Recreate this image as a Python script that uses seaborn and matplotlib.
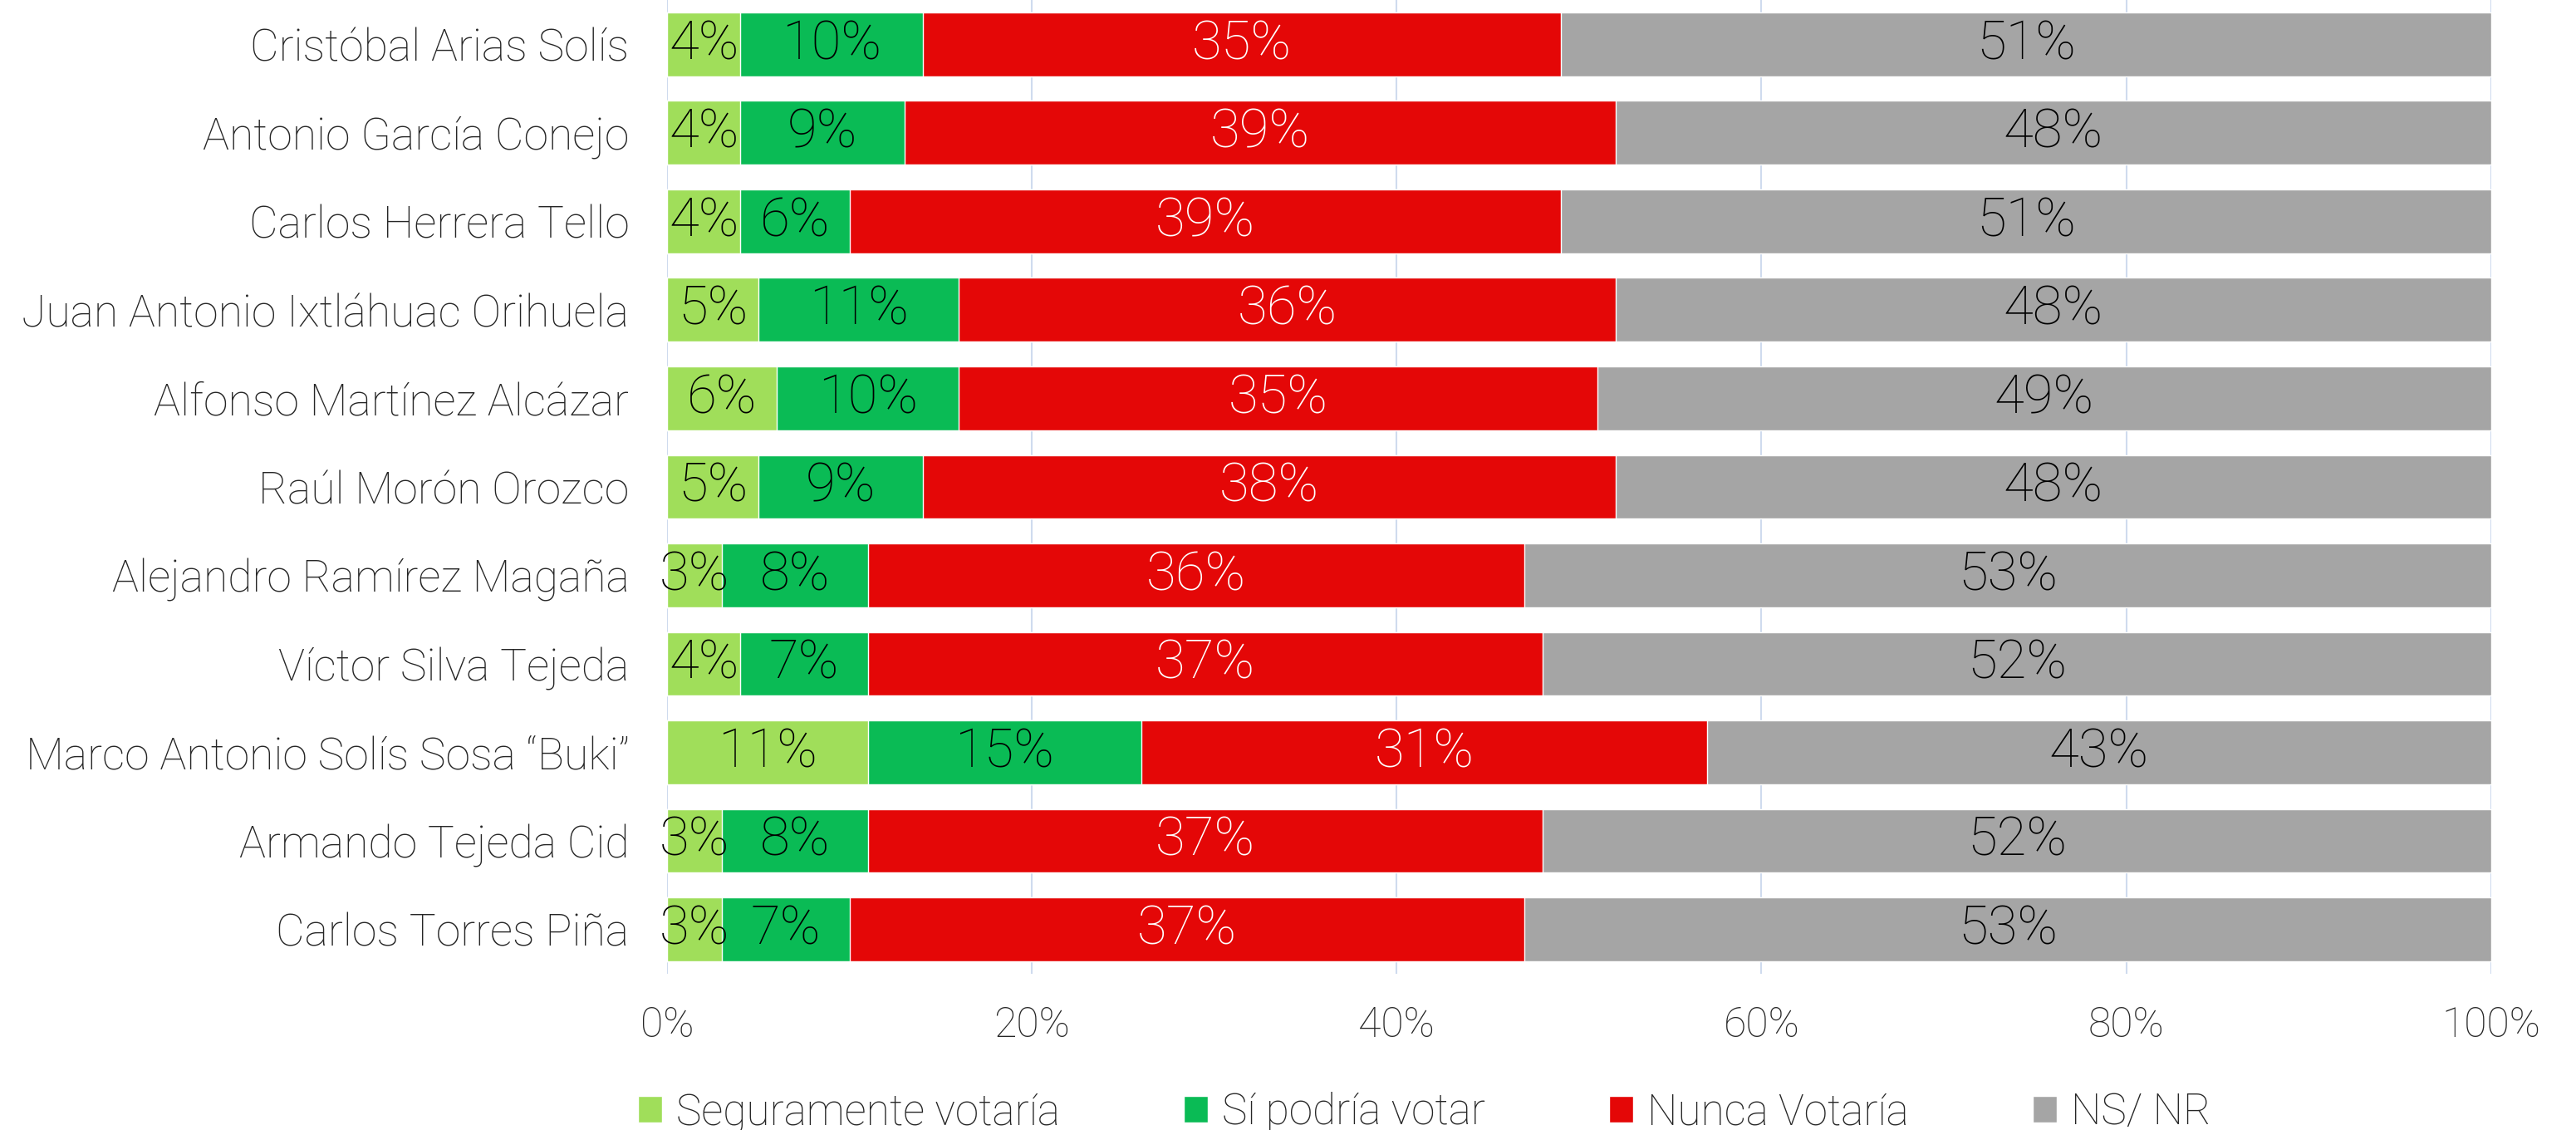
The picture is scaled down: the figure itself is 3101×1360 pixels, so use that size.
import pandas as pd
import numpy as np
import matplotlib.pyplot as plt
import seaborn as sns
from matplotlib.patches import Patch

sns.set_style("white")
plt.rcParams['font.family'] = ['Roboto', 'Liberation Sans', 'DejaVu Sans']
plt.rcParams['font.weight'] = 'light'

# Data (percent)
candidates = [
    "Cristóbal Arias Solís",
    "Antonio García Conejo",
    "Carlos Herrera Tello",
    "Juan Antonio Ixtláhuac Orihuela",
    "Alfonso Martínez Alcázar",
    "Raúl Morón Orozco",
    "Alejandro Ramírez Magaña",
    "Víctor Silva Tejeda",
    "Marco Antonio Solís Sosa “Buki”",
    "Armando Tejeda Cid",
    "Carlos Torres Piña",
]
seguramente = [4, 4, 4, 5, 6, 5, 3, 4, 11, 3, 3]
si_podria = [10, 9, 6, 11, 10, 9, 8, 7, 15, 8, 7]
nunca = [35, 39, 39, 36, 35, 38, 36, 37, 31, 37, 37]
ns_nr = [51, 48, 51, 48, 49, 48, 53, 52, 43, 52, 53]

series_names = ["Seguramente votaría", "Sí podría votar", "Nunca Votaría", "NS/ NR"]
colors = ["#A0DE5A", "#0ABB55", "#E40707", "#A5A5A5"]
label_colors = ["black", "black", "white", "black"]

df = pd.DataFrame({
    "candidate": candidates,
    series_names[0]: seguramente,
    series_names[1]: si_podria,
    series_names[2]: nunca,
    series_names[3]: ns_nr,
})
cum = df[series_names].cumsum(axis=1)

fig = plt.figure(figsize=(31.01, 13.6), dpi=100)
ax = fig.add_axes([0.259, 0.1384, 0.708, 0.8616])

# stacked bars: draw cumulative totals from the widest down
for i in range(len(series_names) - 1, -1, -1):
    sns.barplot(x=cum[series_names[i]], y=df["candidate"], color=colors[i],
                orient="h", width=0.72, ax=ax, saturation=1, zorder=2)

# segment labels
for r in range(len(df)):
    left = 0
    for i, name in enumerate(series_names):
        v = df[name].iloc[r]
        ax.text(left + v / 2, r, f"{v}%", ha="center", va="center",
                fontsize=47, color=label_colors[i], zorder=3)
        left += v

ax.set_xlim(0, 100)
ax.set_ylim(len(df) - 0.5, -0.5)
ax.set_xticks(np.arange(0, 101, 20))
ax.set_xticklabels([f"{t}%" for t in range(0, 101, 20)])
ax.xaxis.grid(True, color="#CFDBEE", linewidth=1.5, zorder=0)
ax.yaxis.grid(False)
ax.set_axisbelow(True)
ax.set_xlabel("")
ax.set_ylabel("")
ax.tick_params(axis="y", labelsize=38.5, pad=33, length=0)
ax.tick_params(axis="x", labelsize=36, pad=28, length=0)
for s in ax.spines.values():
    s.set_visible(False)

handles = [Patch(facecolor=c, label=n) for c, n in zip(colors, series_names)]
fig.legend(handles=handles, loc="center", bbox_to_anchor=(0.553, 0.015),
           ncol=4, frameon=False, fontsize=37, handlelength=0.57,
           handleheight=0.57, handletextpad=0.33, columnspacing=2.9)

fig.savefig("out.png", dpi=100)
